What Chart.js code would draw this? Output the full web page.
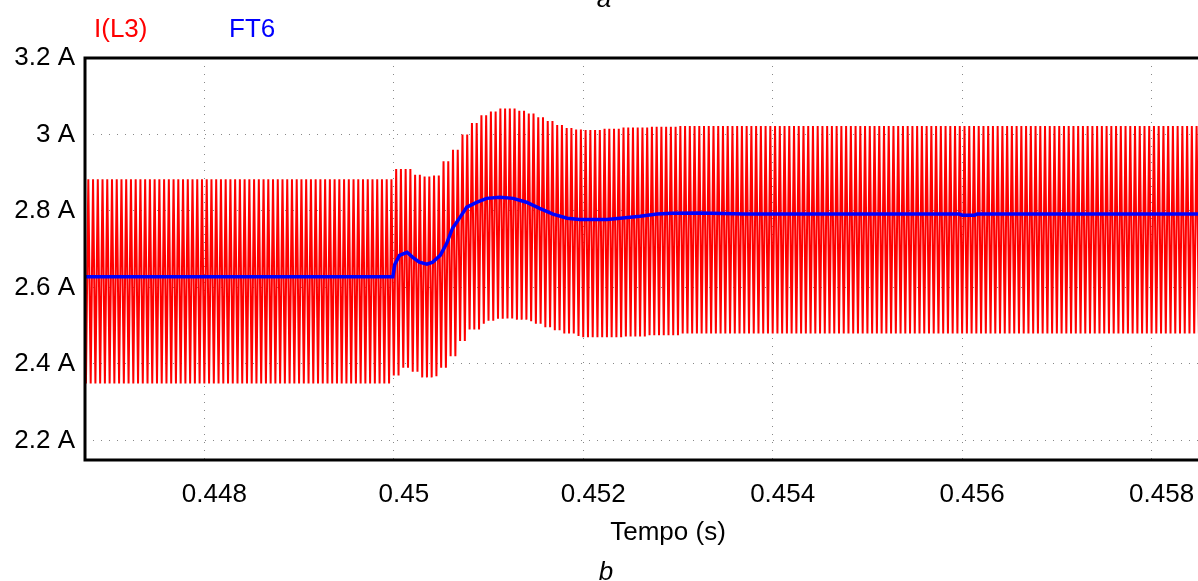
<!DOCTYPE html>
<html>
<head>
<meta charset="utf-8">
<script src="https://cdn.jsdelivr.net/npm/chart.js@4.4.0/dist/chart.umd.min.js"></script>
<style>
  body { margin: 0; background: #fff; }
  #wrap { width: 1198px; height: 581px; }
</style>
</head>
<body>
<div id="wrap"><canvas id="scope" width="1198" height="581"></canvas></div>
<script>
// axis ticks
const xTicks = [0.448, 0.450, 0.452, 0.454, 0.456, 0.458];
const yTicks = [2.2, 2.4, 2.6, 2.8, 3.0, 3.2];

// I(L3): ripple envelope (upper / lower peaks, A)
const envTime = [0.4467, 0.4500, 0.4501, 0.4502, 0.4503, 0.4504, 0.4505, 0.4506, 0.4507, 0.4508,
  0.4509, 0.4510, 0.4511, 0.4512, 0.4513, 0.4514, 0.4515, 0.4516, 0.4517, 0.4518,
  0.4519, 0.4520, 0.4522, 0.4524, 0.4527, 0.4530];
const envHigh = [2.883, 2.910, 2.910, 2.895, 2.890, 2.893, 2.930, 2.960, 3.000, 3.030,
  3.050, 3.060, 3.068, 3.068, 3.062, 3.055, 3.045, 3.035, 3.025, 3.017,
  3.013, 3.012, 3.015, 3.018, 3.020, 3.022];
const envLow = [2.349, 2.370, 2.390, 2.380, 2.365, 2.368, 2.390, 2.420, 2.460, 2.490,
  2.505, 2.513, 2.518, 2.519, 2.516, 2.512, 2.505, 2.496, 2.488, 2.480,
  2.473, 2.470, 2.470, 2.472, 2.475, 2.480];
const rippleStart = 0.44670;
const rippleEnd = 0.45900;
const ripplePeriod = 0.00005; // 20 kHz switching

// FT6: filtered current (A)
const ftTime = [0.44670, 0.44999, 0.45001, 0.45006, 0.45014, 0.45020, 0.45027, 0.45035, 0.45041, 0.45049,
  0.45056, 0.45062, 0.45070, 0.45077, 0.45088, 0.45098, 0.45112, 0.45126, 0.45140, 0.45154,
  0.45168, 0.45183, 0.45196, 0.45225, 0.45239, 0.45260, 0.45278, 0.45294, 0.45323, 0.45370,
  0.45597, 0.45600, 0.45613, 0.45616, 0.45900];
const ftValue = [2.628, 2.628, 2.660, 2.684, 2.692, 2.679, 2.666, 2.661, 2.666, 2.684,
  2.716, 2.755, 2.784, 2.810, 2.823, 2.833, 2.836, 2.833, 2.823, 2.807,
  2.792, 2.781, 2.778, 2.778, 2.781, 2.786, 2.792, 2.794, 2.795, 2.792,
  2.792, 2.789, 2.789, 2.792, 2.792];

const FONT = "'Liberation Sans', Arial, sans-serif";

const ripplePts = [];
for (let k = 0; rippleStart + k * ripplePeriod / 2 <= rippleEnd; k++) {
  const t = rippleStart + k * ripplePeriod / 2;
  let i = 0;
  while (i + 1 < envTime.length && envTime[i + 1] <= t) i++;
  ripplePts.push({ x: t, y: k % 2 ? envHigh[i] : envLow[i] });
}
const ftPts = ftTime.map((t, i) => ({ x: t, y: ftValue[i] }));

const frameAndText = {
  id: 'frameAndText',
  afterDraw(chart) {
    const { ctx, chartArea: a } = chart;
    ctx.save();
    ctx.strokeStyle = '#000';
    ctx.lineWidth = 3;
    ctx.beginPath();
    ctx.moveTo(chart.width, a.top);
    ctx.lineTo(a.left, a.top);
    ctx.lineTo(a.left, a.bottom);
    ctx.lineTo(chart.width, a.bottom);
    ctx.stroke();

    ctx.textBaseline = 'alphabetic';
    ctx.textAlign = 'left';
    ctx.font = '26px ' + FONT;
    ctx.fillStyle = '#ff0000';
    ctx.fillText('I(L3)', 94, 37);
    ctx.fillStyle = '#0000ff';
    ctx.fillText('FT6', 229, 37);

    ctx.fillStyle = '#000';
    ctx.textAlign = 'center';
    ctx.fillText('Tempo (s)', 668, 540);
    ctx.font = 'italic 26px ' + FONT;
    ctx.fillText('b', 606, 580);
    ctx.fillText('a', 604, 7);
    ctx.restore();
  }
};

new Chart(document.getElementById('scope'), {
  type: 'line',
  data: {
    datasets: [
      {
        label: 'I(L3)',
        data: ripplePts,
        borderColor: '#ff0000',
        borderWidth: 2,
        pointRadius: 0,
        tension: 0,
        order: 1
      },
      {
        label: 'FT6',
        data: ftPts,
        borderColor: '#0000ff',
        borderWidth: 3.5,
        pointRadius: 0,
        tension: 0,
        order: 0
      }
    ]
  },
  options: {
    responsive: false,
    animation: false,
    events: [],
    layout: { padding: { top: 58, left: 0, right: 0, bottom: 0 } },
    plugins: { legend: { display: false }, tooltip: { enabled: false } },
    scales: {
      x: {
        type: 'linear',
        min: 0.44674,
        max: 0.45849,
        afterBuildTicks: s => { s.ticks = xTicks.map(v => ({ value: v })); },
        afterFit: s => { s.height = 121; s.paddingLeft = 0; s.paddingRight = 0; },
        grid: { color: '#888', lineWidth: 1, drawTicks: false },
        border: { display: false, dash: [1, 7] },
        ticks: {
          color: '#000',
          font: { family: FONT, size: 26 },
          padding: 19,
          labelOffset: 10,
          maxRotation: 0,
          autoSkip: false,
          callback: v => String(+v.toFixed(3))
        }
      },
      y: {
        min: 2.149,
        max: 3.2,
        afterBuildTicks: s => { s.ticks = yTicks.map(v => ({ value: v })); },
        afterFit: s => { s.width = 85; s.paddingTop = 0; s.paddingBottom = 0; },
        grid: { color: '#888', lineWidth: 1, drawTicks: false },
        border: { display: false, dash: [1, 7] },
        ticks: {
          color: '#000',
          font: { family: FONT, size: 26 },
          padding: 10,
          callback: v => String(+v.toFixed(1)) + ' A'
        }
      }
    }
  },
  plugins: [frameAndText]
});
</script>
</body>
</html>
